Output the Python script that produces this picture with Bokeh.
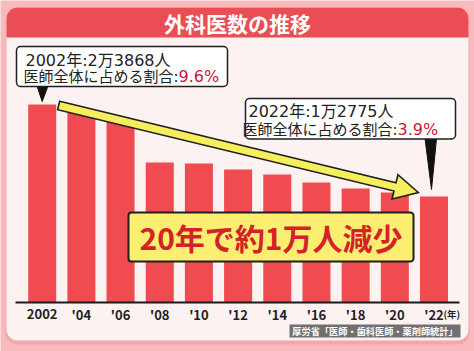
import math
from bokeh.plotting import figure
from bokeh.models import Range1d, BoxAnnotation
from bokeh.core.properties import value
from bokeh.embed import file_html
from bokeh.resources import INLINE

# ---------------- data ----------------
year_labels = ["2002", "'04", "'06", "'08", "'10", "'12", "'14", "'16", "'18", "'20", "'22"]
surgeons = [23868, 22930, 21940, 16870, 16750, 16030, 15420, 14460, 13740, 13260, 12775]
title_text = "外科医数の推移"
callout_first = ["2002年:2万3868人", "医師全体に占める割合:", "9.6%"]
callout_last = ["2022年:1万2775人", "医師全体に占める割合:", "3.9%"]
headline = "20年で約1万人減少"
unit_label = "(年)"
source_text = "厚労省「医師・歯科医師・薬剤師統計」"

# ---------------- layout helpers ----------------
W, H = 474, 351
BAR0_PX = 41.7      # screen x of first bar centre
STEP_PX = 39.18     # screen distance between bars
BASE_PX = 302.0     # screen y of the zero line
Y_TOP = 36400.0     # data value at the top edge of the canvas

def X(px):
    return (px - BAR0_PX) / STEP_PX

def Y(py):
    return (BASE_PX - py) * Y_TOP / BASE_PX

def PX(x):
    return BAR0_PX + x * STEP_PX

def PY(y):
    return BASE_PX - y * BASE_PX / Y_TOP

FONT = value("Noto Sans CJK JP")
MIXFONT = value("'DejaVu Sans', 'Noto Sans CJK JP'")

p = figure(width=W, height=H, x_range=Range1d(X(0), X(W)), y_range=Range1d(Y(H), Y(0)),
           output_backend="svg", toolbar_location=None, min_border=0,
           x_axis_location=None, y_axis_location=None,
           background_fill_color="#f8babd", border_fill_color="#f8babd",
           outline_line_color=None)
p.grid.visible = False

def box(l, r, t, b, fill, line=None, lw=0, radius=0, level="annotation"):
    bx = BoxAnnotation(left=X(l), right=X(r), top=Y(t), bottom=Y(b),
                       fill_color=fill, fill_alpha=1.0,
                       line_color=line, line_width=lw, line_alpha=1.0 if line else 0,
                       border_radius=radius, level=level)
    p.add_layout(bx)
    return bx

# panel shadow, panel, title bar
box(5, 469, 9, 344, "#f3a6ab", radius=12, level="underlay")
box(6, 468, 7, 340, "#fdf2f2", radius=11, level="underlay")
box(6, 468, 7, 37, "#ea4d53", radius=(11, 11, 0, 0), level="underlay")
p.text(x=[X(237)], y=[Y(22.5)], text=[title_text], text_font=FONT, text_font_style="bold",
       text_font_size="21px", text_color="white", text_align="center", text_baseline="middle")

# bars
idx = list(range(len(surgeons)))
p.vbar(x=idx, top=surgeons, bottom=0, width=0.715, fill_color="#ef4b50", line_color=None)

# baseline and tick labels
p.segment(x0=[X(15)], y0=[0], x1=[X(459)], y1=[0], line_color="#1a1a1a", line_width=2)
p.text(x=idx, y=[Y(313.5)] * len(idx), text=year_labels, text_font=FONT, text_font_style="bold",
       text_font_size="13px", text_color="#222222", text_align="center", text_baseline="middle")
p.text(x=[X(443)], y=[Y(313)], text=[unit_label], text_font=FONT, text_font_style="bold",
       text_font_size="9.5px", text_color="#222222", text_align="left", text_baseline="middle")

# source label
box(289, 460, 324, 337, "#707070", level="annotation")
p.text(x=[X(374.5)], y=[Y(330.8)], text=[source_text], text_font=FONT, text_font_style="bold",
       text_font_size="9.2px", text_color="white", text_align="center", text_baseline="middle",
       level="overlay")

# trend arrow (from top of first bar to top of last bar)
sx, sy = PX(0 + 0.42), PY(surgeons[0]) + 1
tx, ty = PX(len(surgeons) - 1 - 0.4), PY(surgeons[-1]) - 4
dx, dy = tx - sx, ty - sy
L = math.hypot(dx, dy)
ux, uy = dx / L, dy / L
nx, ny = -uy, ux
hl, hw, sw = 24, 12.5, 4.3
bx_, by_ = tx - ux * hl, ty - uy * hl
pts = [
    (sx - nx * sw, sy - ny * sw),
    (bx_ - nx * sw, by_ - ny * sw),
    (bx_ - nx * hw, by_ - ny * hw),
    (tx, ty),
    (bx_ + nx * hw, by_ + ny * hw),
    (bx_ + nx * sw, by_ + ny * sw),
    (sx + nx * sw, sy + ny * sw),
]
p.patch(x=[X(a) for a, b in pts], y=[Y(b) for a, b in pts], fill_color="#f6ee5c",
        line_color="#1f1f1f", line_width=1.6, line_join="miter", level="annotation")

# headline box
box(128, 413, 212, 261, "#fbee70", line="#1f1f1f", lw=2, radius=3)
p.text(x=[X(270.5)], y=[Y(236.5)], text=[headline], text_font=FONT, text_font_style="bold",
       text_font_size="30px", text_color="#d4222a", text_align="center", text_baseline="middle",
       level="overlay")

# callout 1 (2002)
box(16, 227, 46, 86, "white", line="#1f1f1f", lw=1.5, radius=4)
t1x, t1y = PX(0), PY(surgeons[0]) - 3
p.patch(x=[X(36.5), X(47.5), X(t1x)], y=[Y(85.5), Y(85.5), Y(t1y)], fill_color="#111111",
        line_color="#111111", line_width=1, level="annotation")
p.text(x=[X(25)], y=[Y(59.5)], text=[callout_first[0]], text_font=MIXFONT, text_font_size="16px",
       text_color="#222222", text_align="left", text_baseline="middle", level="overlay")
p.text(x=[X(178)], y=[Y(76)], text=[callout_first[1]], text_font=MIXFONT, text_font_size="15px",
       text_color="#222222", text_align="right", text_baseline="middle", level="overlay")
p.text(x=[X(178)], y=[Y(76)], text=[callout_first[2]], text_font=MIXFONT, text_font_size="16px",
       text_color="#c8163c", text_align="left", text_baseline="middle", level="overlay")

# callout 2 (2022)
box(245, 455, 98, 138.5, "white", line="#1f1f1f", lw=1.5, radius=4)
t2x, t2y = PX(len(surgeons) - 1) - 2.5, PY(surgeons[-1]) - 7
p.patch(x=[X(424.5), X(436), X(t2x)], y=[Y(138), Y(138), Y(t2y)], fill_color="#111111",
        line_color="#111111", line_width=1, level="annotation")
p.text(x=[X(248)], y=[Y(111)], text=[callout_last[0]], text_font=MIXFONT, text_font_size="16px",
       text_color="#222222", text_align="left", text_baseline="middle", level="overlay")
p.text(x=[X(397)], y=[Y(129)], text=[callout_last[1]], text_font=MIXFONT, text_font_size="15px",
       text_color="#222222", text_align="right", text_baseline="middle", level="overlay")
p.text(x=[X(397)], y=[Y(129)], text=[callout_last[2]], text_font=MIXFONT, text_font_size="16px",
       text_color="#c8163c", text_align="left", text_baseline="middle", level="overlay")

open("out.html", "w").write(file_html(p, INLINE))
